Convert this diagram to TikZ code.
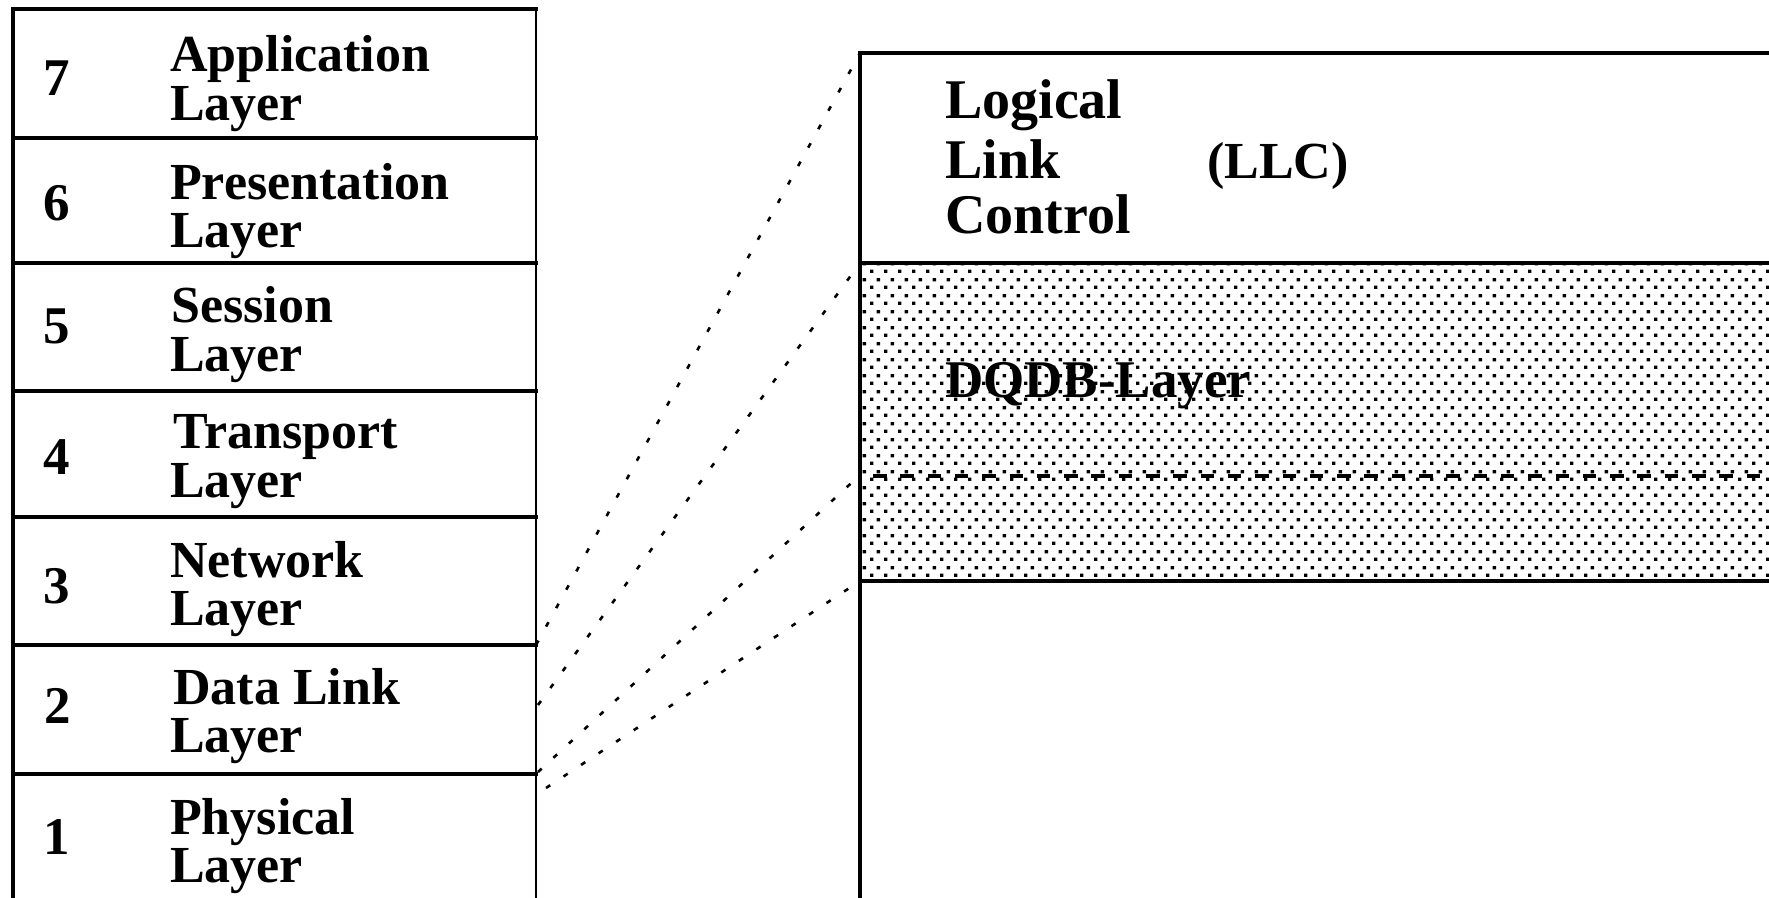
\documentclass[tikz,border=0pt]{standalone}
\usepackage{fontspec}
\setmainfont{Liberation Serif}
\usetikzlibrary{patterns}
\pgfdeclarepatternformonly{dqdbdots}{\pgfpointorigin}{\pgfqpoint{13.6pt}{16pt}}{\pgfqpoint{13.6pt}{16pt}}{%
  \pgfpathrectangle{\pgfpointorigin}{\pgfqpoint{3.5pt}{3.5pt}}%
  \pgfpathrectangle{\pgfqpoint{6.8pt}{8pt}}{\pgfqpoint{3.5pt}{3.5pt}}%
  \pgfusepath{fill}}
\tikzset{
  lbl/.style={anchor=base west, inner sep=0pt, text height=35pt, text depth=7pt, font=\bfseries\fontsize{52}{52}\selectfont},
  rlbl/.style={anchor=base west, inner sep=0pt, text height=38pt, text depth=10pt, font=\bfseries\fontsize{56}{56}\selectfont},
  num/.style={anchor=base, inner sep=0pt, font=\bfseries\fontsize{53}{53}\selectfont},
  frame/.style={line width=3.4pt, line cap=rect},
  thinframe/.style={line width=2pt},
  dotline/.style={line width=2.6pt, dash pattern=on 5pt off 16pt},
  sepdash/.style={line width=3.8pt, dash pattern=on 13.5pt off 13.8pt}
}
\begin{document}
\begin{tikzpicture}[x=1pt,y=-1pt]
\useasboundingbox (0,0) rectangle (1769,897);
\clip (0,0) rectangle (1769,897);
% ---------- left OSI stack ----------
\draw[frame] (536,9) -- (13,9) -- (13,905);
\draw[thinframe] (536,9) -- (536,905);
\foreach \yy in {138,263,391,517,645,774}{
  \draw[frame] (13,\yy) -- (536,\yy);
}
% named connector ends on the OSI stack
\coordinate (s1) at (536,645);
\coordinate (s2) at (538,705);
\coordinate (s3) at (538,772);
\coordinate (s4) at (546,788);
% ---------- right box ----------
\fill[pattern=dqdbdots] (860,263) rectangle (1775,581);
\draw[frame] (1775,53) -- (860,53) -- (860,905);
\draw[frame] (860,263) -- (1775,263);
\draw[frame] (860,581) -- (1775,581);
\coordinate (dstart) at (873,476);
\coordinate (dend) at (1775,476);
\draw[sepdash] (dstart) -- (dend);
\coordinate (r1) at (860,53);
\coordinate (r2) at (860,263);
\coordinate (r3) at (860,475);
\coordinate (r4) at (860,581);
% ---------- connectors ----------
\draw[dotline] (s1) -- (r1);
\draw[dotline] (s2) -- (r2);
\draw[dotline] (s3) -- (r3);
\draw[dotline] (s4) -- (r4);
% ---------- layer labels ----------
\node[num] (n7) at (57,95) {7};
\node[lbl] (t7a) at (170,71) {Application};
\node[lbl] (t7b) at (170,120) {Layer};
\node[num] (n6) at (57,220) {6};
\node[lbl] (t6a) at (170,199) {Presentation};
\node[lbl] (t6b) at (170,247) {Layer};
\node[num] (n5) at (57,343) {5};
\node[lbl] (t5a) at (171,322) {Session};
\node[lbl] (t5b) at (170,371) {Layer};
\node[num] (n4) at (57,474) {4};
\node[lbl] (t4a) at (173,448) {Transport};
\node[lbl] (t4b) at (170,497) {Layer};
\node[num] (n3) at (57,603) {3};
\node[lbl] (t3a) at (170,577) {Network};
\node[lbl] (t3b) at (170,625) {Layer};
\node[num] (n2) at (58,723) {2};
\node[lbl] (t2a) at (173,704) {Data Link};
\node[lbl] (t2b) at (170,752) {Layer};
\node[num] (n1) at (57,854) {1};
\node[lbl] (t1a) at (170,834) {Physical};
\node[lbl] (t1b) at (170,882) {Layer};
% ---------- right labels ----------
\node[rlbl] (llc1) at (945,118) {Logical};
\node[rlbl] (llc2) at (945,178) {Link};
\node[rlbl] (llc3) at (945,233) {Control};
\node[lbl, font=\bfseries\fontsize{52}{52}\selectfont] (llc4) at (1207,178) {(LLC)};
\node[lbl, font=\bfseries\fontsize{53}{53}\selectfont] (dqdb) at (945,397) {DQDB-Layer};
\end{tikzpicture}
\end{document}
